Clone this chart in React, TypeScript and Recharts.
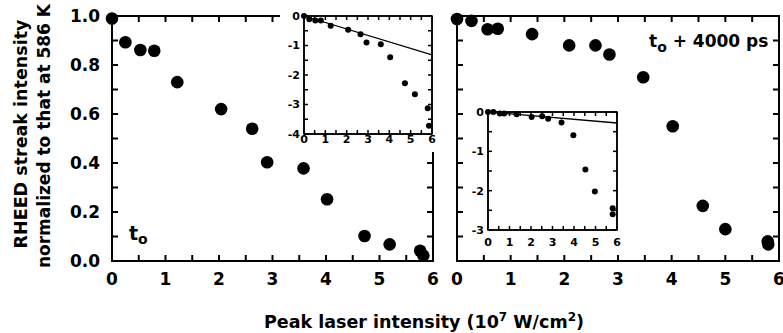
import React from "react";
import { ScatterChart, Scatter, XAxis, YAxis, ReferenceArea } from "recharts";

const FONT = '"DejaVu Sans", "Liberation Sans", sans-serif';

// Tick positions (labels only on the major ones)
const X_TICKS = [0, 0.5, 1, 1.5, 2, 2.5, 3, 3.5, 4, 4.5, 5, 5.5, 6];
const MAIN_Y_TICKS = [0, 0.1, 0.2, 0.3, 0.4, 0.5, 0.6, 0.7, 0.8, 0.9, 1.0];
const INSET1_Y_TICKS = [-4, -3.5, -3, -2.5, -2, -1.5, -1, -0.5, 0];
const INSET2_Y_TICKS = [-3, -2.5, -2, -1.5, -1, -0.5, 0];

// t0 panel: normalized RHEED streak intensity
const T0_X = [0, 0.25, 0.53, 0.79, 1.22, 2.04, 2.62, 2.9, 3.58, 4.02, 4.72, 5.19, 5.76, 5.82];
const T0_Y = [0.99, 0.893, 0.861, 0.858, 0.73, 0.62, 0.54, 0.403, 0.378, 0.252, 0.102, 0.068, 0.042, 0.022];

// t0 inset: ln of the intensity + fit line
const T0_LN_X = [0, 0.25, 0.53, 0.79, 1.25, 2.07, 2.65, 2.93, 3.6, 4.04, 4.73, 5.2, 5.8, 5.86];
const T0_LN_Y = [0, -0.11, -0.15, -0.15, -0.33, -0.47, -0.62, -0.9, -0.96, -1.4, -2.28, -2.65, -3.13, -3.72];
const T0_FIT_X = [0, 6];
const T0_FIT_Y = [0, -1.32];

// t0 + 4000 ps panel
const T4_X = [0, 0.27, 0.57, 0.76, 1.4, 2.09, 2.58, 2.84, 3.47, 4.02, 4.58, 5.0, 5.79, 5.8];
const T4_Y = [0.988, 0.98, 0.946, 0.948, 0.926, 0.88, 0.88, 0.843, 0.75, 0.55, 0.225, 0.13, 0.08, 0.068];

// t0 + 4000 ps inset
const T4_LN_X = [0, 0.25, 0.55, 0.75, 1.33, 2.03, 2.52, 2.8, 3.42, 3.97, 4.53, 4.97, 5.8, 5.8];
const T4_LN_Y = [0, 0, -0.04, -0.04, -0.06, -0.13, -0.11, -0.17, -0.27, -0.59, -1.46, -2.02, -2.45, -2.6];
const T4_FIT_X = [0, 6];
const T4_FIT_Y = [0, -0.28];

const toPts = (xs: number[], ys: number[]) => xs.map((x, i) => ({ x, y: ys[i] }));

const isStep = (v: number, step: number) => {
  const r = v / step;
  return Math.abs(r - Math.round(r)) < 1e-6;
};

const dot = (r: number) => (p: any) => <circle cx={p.cx} cy={p.cy} r={r} fill="#000" />;
const noShape = () => <g />;
const blank = () => "";

type FrameProps = {
  w: number;
  h: number;
  yAxisW: number;
  xAxisH: number;
  margin: { top: number; right: number; bottom: number; left: number };
  yDomain: [number, number];
  yTicks: number[];
  tickLen: number;
  sw: number;
  fontSize: number;
  xMargin: number;
  yMargin: number;
  xFmt: (v: number) => string;
  yFmt: (v: number) => string;
  pts: { x: number; y: number }[];
  r: number;
  fit?: { x: number; y: number }[];
};

function Frame(p: FrameProps) {
  const line = { stroke: "#000", strokeWidth: p.sw };
  const font = { fontSize: p.fontSize, fontWeight: "bold", fontFamily: FONT, fill: "#000" };
  const common = { axisLine: line, tickLine: line, tickSize: -p.tickLen, interval: 0 as const };
  return (
    <ScatterChart width={p.w} height={p.h} margin={p.margin}>
      <XAxis xAxisId="b" type="number" dataKey="x" domain={[0, 6]} ticks={X_TICKS} height={p.xAxisH}
        {...common} tickMargin={p.xMargin} tick={font} tickFormatter={p.xFmt} />
      <XAxis xAxisId="t" orientation="top" type="number" dataKey="x" domain={[0, 6]} ticks={X_TICKS}
        height={1} {...common} tickMargin={0} tick={font} tickFormatter={blank} />
      <YAxis yAxisId="l" type="number" dataKey="y" domain={p.yDomain} ticks={p.yTicks} width={p.yAxisW}
        {...common} tickMargin={p.yMargin} tick={font} tickFormatter={p.yFmt} />
      <YAxis yAxisId="r" orientation="right" type="number" dataKey="y" domain={p.yDomain}
        ticks={p.yTicks} width={1} {...common} tickMargin={0} tick={font} tickFormatter={blank} />
      {/* plot frame */}
      <ReferenceArea xAxisId="b" yAxisId="l" x1={0} x2={6} y1={p.yDomain[0]} y2={p.yDomain[1]}
        fill="none" stroke="#000" strokeWidth={p.sw} ifOverflow="visible" />
      {/* hidden copy so the mirrored axes get their ticks */}
      <Scatter xAxisId="t" yAxisId="r" data={p.pts} shape={noShape} isAnimationActive={false} />
      {p.fit && (
        <Scatter xAxisId="b" yAxisId="l" data={p.fit} line={{ stroke: "#000", strokeWidth: 1.3 }}
          lineType="joint" shape={noShape} isAnimationActive={false} />
      )}
      <Scatter xAxisId="b" yAxisId="l" data={p.pts} shape={dot(p.r)} isAnimationActive={false} />
    </ScatterChart>
  );
}

const abs = (left: number, top: number, extra: React.CSSProperties = {}): React.CSSProperties => ({
  position: "absolute",
  left,
  top,
  ...extra,
});

export default function App() {
  const xFmt = (v: number) => (isStep(v, 1) ? String(v) : "");
  const mainCommon = {
    h: 300,
    xAxisH: 39,
    yDomain: [0, 1] as [number, number],
    yTicks: MAIN_Y_TICKS,
    tickLen: 6,
    sw: 2,
    fontSize: 17,
    xMargin: 18,
    yMargin: 18,
    xFmt,
    yFmt: (v: number) => (isStep(v, 0.2) ? v.toFixed(1) : ""),
    r: 6.3,
  };
  const insetCommon = {
    tickLen: 4,
    sw: 1.5,
    fontSize: 11,
    yMargin: 8,
    xFmt,
    yFmt: (v: number) => (isStep(v, 1) ? (v < 0 ? "-" + Math.abs(v) : "0") : ""),
    r: 3,
  };
  return (
    <div style={abs(0, 0, { width: 783, height: 333, background: "#fff", overflow: "hidden" })}>
      <div style={abs(0, 0)}>
        <Frame {...mainCommon} w={440} yAxisW={112} margin={{ top: 15, right: 6, bottom: 0, left: 0 }}
          pts={toPts(T0_X, T0_Y)} />
      </div>
      <div style={abs(440, 0)}>
        <Frame {...mainCommon} w={343} yAxisW={17} margin={{ top: 15, right: 3, bottom: 0, left: 0 }}
          yFmt={blank} pts={toPts(T4_X, T4_Y)} />
      </div>
      <div style={abs(280, 4, { background: "#fff" })}>
        <Frame {...insetCommon} w={156} h={148} yAxisW={24} xAxisH={18}
          margin={{ top: 11, right: 3, bottom: 0, left: 0 }} yDomain={[-4, 0]} yTicks={INSET1_Y_TICKS}
          xMargin={5} pts={toPts(T0_LN_X, T0_LN_Y)} fit={toPts(T0_FIT_X, T0_FIT_Y)} />
      </div>
      <div style={abs(466, 100, { background: "#fff" })}>
        <Frame {...insetCommon} w={155} h={150} yAxisW={22} xAxisH={20}
          margin={{ top: 11, right: 3, bottom: 0, left: 0 }} yDomain={[-3, 0]} yTicks={INSET2_Y_TICKS}
          xMargin={12} pts={toPts(T4_LN_X, T4_LN_Y)} fit={toPts(T4_FIT_X, T4_FIT_Y)} />
      </div>
      <svg width={783} height={333} style={abs(0, 0, { pointerEvents: "none" })}
        fontFamily={FONT} fontWeight="bold" fill="#000">
        <text transform="translate(27,134) rotate(-90)" textAnchor="middle" fontSize={17.5}>
          RHEED streak intensity
        </text>
        <text transform="translate(50,136) rotate(-90)" textAnchor="middle" fontSize={17}>
          normalized to that at 586 K
        </text>
        <text x={424} y={328} textAnchor="middle" fontSize={17.5}>
          Peak laser intensity (10
          <tspan fontSize={12} dy={-7}>7</tspan>
          <tspan dy={7}> W/cm</tspan>
          <tspan fontSize={12} dy={-7}>2</tspan>
          <tspan dy={7}>)</tspan>
        </text>
        <text x={129} y={240} fontSize={19}>
          t<tspan fontSize={14} dy={4}>o</tspan>
        </text>
        <text x={649} y={47} fontSize={17}>
          t<tspan fontSize={14} dy={5}>o</tspan>
          <tspan dy={-5}> + 4000 ps</tspan>
        </text>
      </svg>
    </div>
  );
}
